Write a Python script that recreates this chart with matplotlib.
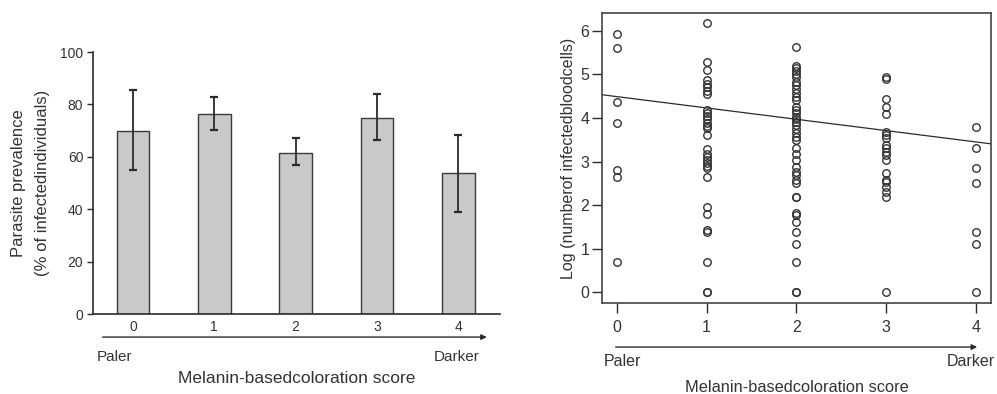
import numpy as np
import matplotlib
matplotlib.use("Agg")
import matplotlib.pyplot as plt

plt.rcParams['font.family'] = ['Liberation Sans', 'DejaVu Sans']

# Left panel: parasite prevalence per coloration score
scores = [0, 1, 2, 3, 4]
prevalence = [69.9, 76.5, 61.5, 75.0, 53.7]
err_low = [54.9, 70.4, 56.9, 66.6, 39.1]
err_high = [85.4, 82.9, 67.0, 83.8, 68.5]

# Right panel: log number of infected blood cells per score
log_cells = {
    0: [5.92, 5.60, 4.36, 3.88, 2.80, 2.65, 0.70],
    1: [6.18, 5.28, 5.10, 4.88, 4.78, 4.70, 4.62, 4.55, 4.18, 4.12, 4.05,
        3.98, 3.88, 3.82, 3.76, 3.60, 3.28, 3.18, 3.10, 3.03, 2.96, 2.90,
        2.85, 2.65, 1.96, 1.80, 1.42, 1.38, 0.70, 0.0, 0.0],
    2: [5.63, 5.20, 5.14, 5.08, 5.01, 4.93, 4.83, 4.76, 4.66, 4.58, 4.49,
        4.41, 4.26, 4.18, 4.11, 4.03, 3.98, 3.91, 3.84, 3.74, 3.65, 3.57,
        3.49, 3.30, 3.17, 3.04, 2.88, 2.77, 2.69, 2.58, 2.50, 2.19, 2.18,
        1.81, 1.77, 1.62, 1.39, 1.10, 0.70, 0.0, 0.0],
    3: [4.93, 4.90, 4.43, 4.26, 4.08, 3.67, 3.61, 3.53, 3.38, 3.30, 3.21,
        3.15, 3.04, 2.73, 2.58, 2.52, 2.42, 2.29, 2.19, 0.0],
    4: [3.80, 3.30, 2.84, 2.50, 1.39, 1.10, 0.0],
}
fit_intercept = 4.49
fit_slope = -0.26

dark = '#2b2b2b'
txt = '#333333'
fig = plt.figure(figsize=(9.97, 3.94), dpi=100)

# ---- left: bar chart
ax1 = fig.add_axes([0.0933, 0.203, 0.408, 0.665])
yerr = [np.array(prevalence) - np.array(err_low), np.array(err_high) - np.array(prevalence)]
ax1.bar(scores, prevalence, width=0.4, color='#c9c9c9', edgecolor='#3a3a3a', linewidth=1.0)
ax1.errorbar(scores, prevalence, yerr=yerr, fmt='none', ecolor=dark,
             elinewidth=1.3, capsize=3, capthick=1.6)
ax1.set_xlim(-0.49, 4.51)
ax1.set_ylim(0, 100)
ax1.set_yticks([0, 20, 40, 60, 80, 100])
ax1.set_xticks(scores)
for s in ['top', 'right']:
    ax1.spines[s].set_visible(False)
for s in ['left', 'bottom']:
    ax1.spines[s].set_color(dark)
    ax1.spines[s].set_linewidth(1.2)
ax1.tick_params(axis='y', length=4, width=1, color=dark, labelsize=10, labelcolor=txt, pad=3)
ax1.tick_params(axis='x', length=0, labelsize=10, labelcolor=txt, pad=4)
ax1.text(-0.182, 0.5, 'Parasite prevalence', rotation=90, transform=ax1.transAxes,
         ha='center', va='center', fontsize=12, color=txt)
ax1.text(-0.125, 0.5, '(% of infectedindividuals)', rotation=90, transform=ax1.transAxes,
         ha='center', va='center', fontsize=12, color=txt)
ax1.annotate('', xy=(0.975, -0.088), xytext=(0.017, -0.088), xycoords='axes fraction',
             arrowprops=dict(arrowstyle='-|>', color=dark, lw=1.0, mutation_scale=8))
ax1.text(0.01, -0.164, 'Paler', transform=ax1.transAxes, ha='left', va='center',
         fontsize=11, color=txt)
ax1.text(0.951, -0.164, 'Darker', transform=ax1.transAxes, ha='right', va='center',
         fontsize=11, color=txt)
ax1.text(0.501, -0.248, 'Melanin-basedcoloration score', transform=ax1.transAxes,
         ha='center', va='center', fontsize=12.5, color=txt)

# ---- right: scatter with regression line
ax2 = fig.add_axes([0.6038, 0.231, 0.390, 0.736])
for score, vals in log_cells.items():
    ax2.plot([score] * len(vals), vals, linestyle='none', marker='o', markersize=5.4,
             markerfacecolor='none', markeredgecolor=txt, markeredgewidth=1.0)
xl = np.array([-0.167, 4.167])
ax2.plot(xl, fit_intercept + fit_slope * xl, color=dark, lw=0.9)
ax2.set_xlim(-0.167, 4.167)
ax2.set_ylim(-0.248, 6.41)
ax2.set_xticks(scores)
ax2.set_yticks([0, 1, 2, 3, 4, 5, 6])
for s in ax2.spines.values():
    s.set_color('#444444')
    s.set_linewidth(1.2)
ax2.tick_params(axis='both', length=7, width=1, color=dark, labelsize=11.5, labelcolor=txt)
ax2.tick_params(axis='y', pad=2)
ax2.tick_params(axis='x', pad=5)
ax2.set_ylabel('Log (numberof infectedbloodcells)', fontsize=11.5, color=txt, labelpad=3)
ax2.annotate('', xy=(0.972, -0.152), xytext=(0.028, -0.152), xycoords='axes fraction',
             arrowprops=dict(arrowstyle='-|>', color=dark, lw=1.0, mutation_scale=8))
ax2.text(0.005, -0.203, 'Paler', transform=ax2.transAxes, ha='left', va='center',
         fontsize=11.5, color=txt)
ax2.text(1.01, -0.203, 'Darker', transform=ax2.transAxes, ha='right', va='center',
         fontsize=11.5, color=txt)
ax2.text(0.501, -0.29, 'Melanin-basedcoloration score', transform=ax2.transAxes,
         ha='center', va='center', fontsize=11.8, color=txt)

fig.savefig('out.png', dpi=100)
